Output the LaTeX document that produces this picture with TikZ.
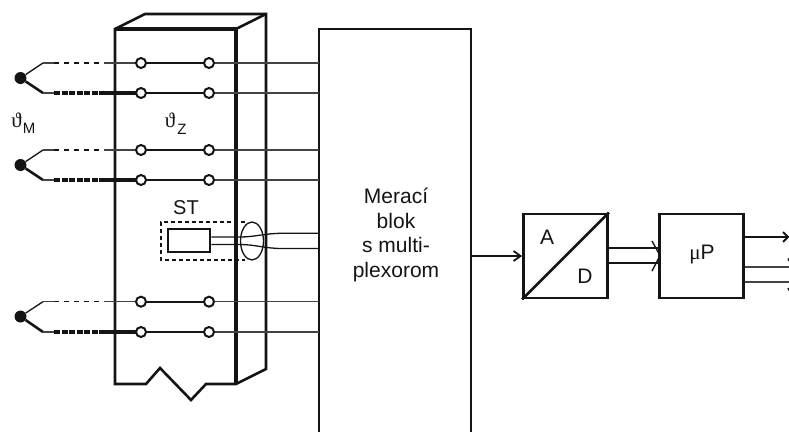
\documentclass[tikz,border=0pt]{standalone}
\usepackage{fontspec}
\setmainfont{Liberation Sans}
\newfontfamily\greek{Liberation Serif}
\usetikzlibrary{arrows.meta,shapes.geometric}
\definecolor{ink}{gray}{0.08}
\tikzset{
 x=1pt,y=-1pt,
 thickline/.style={ink,line width=3.2pt,line join=miter},
 blockline/.style={ink,line width=2.6pt,line join=miter},
 medline/.style={ink,line width=2.6pt},
 wire/.style={ink!80,line width=1.3pt},
 wireb/.style={ink,line width=1.7pt},
 fat/.style={ink,line width=3.4pt},
 term/.style={circle,draw=ink,fill=white,line width=2pt,inner sep=0pt,minimum size=10pt},
 junc/.style={circle,fill=ink,inner sep=0pt,minimum size=12pt},
 lab/.style={ink,font=\fontsize{20}{22}\selectfont,inner sep=0pt},
 arr/.style={ink,line width=1.8pt,-{Straight Barb[length=7pt,width=10pt,line width=1.8pt]}},
}
\begin{document}
\begin{tikzpicture}
\useasboundingbox (0,0) rectangle (789,432);
\clip (0,0) rectangle (789,432);
% rack
\draw[medline,line join=miter] (115,384) -- (115,29) -- (145,14) -- (266,14) -- (266,369) -- (236,384) -- (206,384) -- (191,400) -- (160,368) -- (146,384) -- cycle;
\draw[thickline] (115,29) -- (236,29) -- (236,384);
\draw[medline] (236,29) -- (266,14);
% measuring block
\draw[blockline] (319,432) -- (319,29) -- (471,29) -- (471,432);
% couples
\foreach \n/\a/\b/\j in {1/63/93/78,2/150/180/165,3/301.7/332/316.5}{
  \node[junc] (j\n) at (20.5,\j) {};
  \coordinate (ka\n) at (43,\a);
  \coordinate (kb\n) at (43,\b);
  \coordinate (ma\n) at (319,\a);
  \coordinate (mb\n) at (319,\b);
  \coordinate (p\n) at (54,\a);
  \coordinate (q\n) at (104,\a);
  \coordinate (r\n) at (54,\b);
  \coordinate (s\n) at (104,\b);
  \coordinate (ca\n) at (141,\a);
  \coordinate (cb\n) at (209,\a);
  \coordinate (cc\n) at (141,\b);
  \coordinate (cd\n) at (209,\b);
  \draw[ink,line width=1.3pt] (j\n) -- (ka\n);
  \draw[ink,line width=2.6pt] (j\n) -- (kb\n);
  \draw[wire] (ka\n) -- (p\n);
  \draw[wire] (kb\n) -- (r\n);
  \draw[ink,line width=1.3pt,dash pattern=on 4.5pt off 5.5pt] (p\n) -- (q\n);
  \draw[ink,line width=3.2pt,dash pattern=on 6pt off 1.5pt] (r\n) -- (s\n);
  \draw[wire] (q\n) -- (ca\n);
  \draw[fat] (s\n) -- (cc\n);
  \draw[wireb] (ca\n) -- (cb\n);
  \draw[wireb] (cc\n) -- (cd\n);
  \draw[wire] (cb\n) -- (ma\n);
  \draw[wire] (cd\n) -- (mb\n);
  \node[term] (ta\n) at (ca\n) {};
  \node[term] (tb\n) at (cb\n) {};
  \node[term] (tc\n) at (cc\n) {};
  \node[term] (td\n) at (cd\n) {};
}
% sensor
\node[draw=ink,line width=2.6pt,minimum width=42pt,minimum height=23pt,inner sep=0pt] (st) at (189,240.5) {};
\draw[ink,line width=1.3pt,dash pattern=on 4pt off 3pt] (245,222) -- (161,222) -- (161,260) -- (245,260);
\node[draw=ink,ellipse,line width=1.3pt,minimum width=23pt,minimum height=38pt,inner sep=0pt] (el) at (252,241) {};
\coordinate (sa) at (319,233.3);
\coordinate (sb) at (319,248.5);
\draw[ink,line width=1.3pt] (st.east |- 0,237) -- (240,237) .. controls (255,237) and (265,233.3) .. (282,233.3) -- (sa);
\draw[ink,line width=1.3pt] (st.east |- 0,244.5) -- (240,244.5) .. controls (255,244.5) and (265,248.5) .. (282,248.5) -- (sb);
% converter and processor
\node[draw=ink,line width=2.8pt,minimum size=84pt,inner sep=0pt] (ad) at (565.5,256) {};
\node[draw=ink,line width=2.8pt,minimum size=84pt,inner sep=0pt] (up) at (701.5,256) {};
\draw[ink,line width=2.6pt] (ad.south west) -- (ad.north east);
\coordinate (mo) at (471,256);
\draw[arr] (mo) -- (ad.west);
\draw[ink,line width=1.6pt] (ad.east |- 0,248) -- (up.west |- 0,248);
\draw[ink,line width=1.6pt] (ad.east |- 0,263) -- (up.west |- 0,263);
\draw[ink,line width=1.4pt] (652,241) -- (660,255.5) -- (652,271);
\coordinate (o1) at (789,237);
\coordinate (o2) at (789,267);
\coordinate (o3) at (789,282);
\draw[ink,line width=1.8pt] (up.east |- o1) -- (o1);
\draw[ink,line width=1.8pt] (783,232) -- (788,237) -- (783,242);
\draw[wire] (up.east |- o2) -- (o2);
\draw[wire] (up.east |- o3) -- (o3);
\draw[ink,line width=1.4pt] (788,258.5) -- (789,261);
\draw[ink,line width=1.4pt] (788,288) -- (789,290.5);
% labels
\node[lab,anchor=base,font=\fontsize{21}{23}\selectfont\greek] (tm) at (16.5,127) {ϑ};
\node[lab,anchor=base,font=\fontsize{15}{17}\selectfont] (tms) at (29,133) {M};
\node[lab,anchor=base,font=\fontsize{21}{23}\selectfont\greek] (tz) at (170,127) {ϑ};
\node[lab,anchor=base,font=\fontsize{15}{17}\selectfont] (tzs) at (182,134.5) {Z};
\node[lab,anchor=base] (stl) at (186,214) {ST};
\node[lab,align=center,font=\fontsize{21}{24.5}\selectfont] (mb) at (396,235) {Merací\\blok\\s multi-\\plexorom};
\node[lab,font=\fontsize{21}{23}\selectfont] (a) at (547,237) {A};
\node[lab,font=\fontsize{21}{23}\selectfont] (d) at (585,276) {D};
\node[lab,font=\fontsize{21}{23}\selectfont] (mu) at (702,255) {{\greek μ}P};
\end{tikzpicture}
\end{document}
